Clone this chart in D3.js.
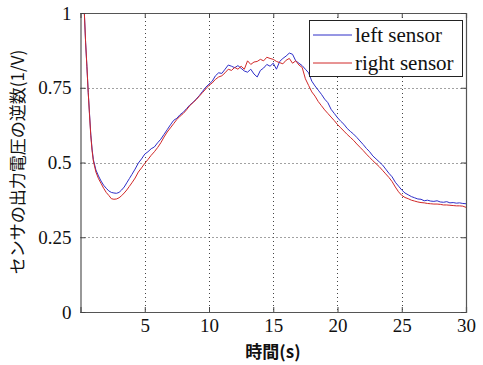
<!DOCTYPE html>
<html><head><meta charset="utf-8">
<script src="https://cdn.jsdelivr.net/npm/d3@7"></script>
<style>body{margin:0;background:#fff}svg{display:block}</style>
</head><body>
<svg id="c" width="483" height="365"></svg>
<script>
const times = [0.3,0.4,0.5,0.6,0.7,0.8,0.9,1.0,1.2,1.4,1.6,1.8,2.0,2.2,2.4,2.6,2.8,3.0,3.2,3.4,3.6,3.8,
4.0,4.25,4.5,4.75,5.0,5.25,5.5,5.75,6.0,6.25,6.5,6.75,7.0,7.25,7.5,7.75,8.0,8.25,8.5,8.75,9.0,9.25,9.5,9.75,
10.0,10.25,10.5,10.75,11.0,11.25,11.5,11.75,12.0,12.25,12.5,12.75,13.0,13.25,13.5,13.75,14.0,14.25,14.5,14.75,
15.0,15.25,15.5,15.75,16.0,16.25,16.5,16.75,17.0,17.25,17.5,17.75,18.0,18.25,18.5,18.75,19.0,19.25,19.5,19.75,
20.0,20.25,20.5,20.75,21.0,21.25,21.5,21.75,22.0,22.25,22.5,22.75,23.0,23.25,23.5,23.75,24.0,24.25,24.5,24.75,
25.0,25.25,25.5,25.75,26.0,26.25,26.5,26.75,27.0,27.25,27.5,27.75,28.0,28.25,28.5,28.75,29.0,29.25,29.5,29.75,30.0];
const leftSensor = [1.0,0.90,0.82,0.735,0.665,0.595,0.545,0.51,0.475,0.455,0.438,0.424,0.414,0.405,0.400,0.398,0.397,0.400,0.408,0.418,0.432,0.446,
0.460,0.478,0.498,0.512,0.528,0.536,0.546,0.552,0.566,0.578,0.594,0.610,0.626,0.641,0.648,0.660,0.668,0.680,0.692,0.701,0.712,0.724,0.738,0.752,
0.762,0.772,0.790,0.800,0.798,0.812,0.826,0.822,0.817,0.824,0.815,0.806,0.802,0.812,0.796,0.786,0.808,0.816,0.828,0.822,
0.832,0.812,0.838,0.848,0.856,0.866,0.862,0.840,0.832,0.824,0.812,0.800,0.772,0.756,0.742,0.728,0.712,0.700,0.678,0.664,
0.650,0.638,0.628,0.614,0.604,0.595,0.584,0.572,0.560,0.547,0.536,0.522,0.512,0.502,0.492,0.478,0.464,0.452,0.434,0.421,
0.408,0.398,0.392,0.386,0.382,0.378,0.377,0.372,0.374,0.371,0.370,0.372,0.368,0.367,0.369,0.365,0.366,0.364,0.365,0.363,0.362];
const rightSensor = [1.0,0.90,0.82,0.735,0.66,0.59,0.54,0.505,0.468,0.446,0.43,0.414,0.40,0.39,0.379,0.377,0.378,0.382,0.389,0.398,0.408,0.42,
0.432,0.448,0.468,0.482,0.497,0.510,0.524,0.536,0.550,0.566,0.585,0.602,0.616,0.630,0.644,0.655,0.664,0.676,0.690,0.700,0.710,0.722,0.734,0.746,
0.758,0.766,0.778,0.786,0.790,0.800,0.812,0.808,0.818,0.812,0.822,0.812,0.840,0.828,0.836,0.838,0.845,0.840,0.852,0.848,
0.845,0.838,0.834,0.830,0.842,0.848,0.832,0.840,0.826,0.818,0.780,0.758,0.736,0.722,0.704,0.690,0.676,0.664,0.652,0.640,
0.627,0.616,0.605,0.594,0.584,0.574,0.562,0.551,0.540,0.528,0.517,0.506,0.496,0.486,0.474,0.462,0.450,0.436,0.418,0.402,
0.390,0.383,0.379,0.374,0.371,0.368,0.366,0.365,0.363,0.362,0.361,0.361,0.360,0.358,0.358,0.357,0.356,0.355,0.355,0.354,0.350];
const xTicks = [5,10,15,20,25,30];
const yTicks = [0,0.25,0.5,0.75,1];
const yTickLabels = ["0","0.25","0.5","0.75","1"];
const seriesNames = ["left sensor","right sensor"];
const seriesColors = ["#2e2ec8","#d02828"];
const xLabel = "時間(s)";
const yLabel = "センサの出力電圧の逆数(1/V)";

// pick an installed serif face if any
const cv = document.createElement("canvas").getContext("2d");
function w(f){ cv.font = "40px " + f; return cv.measureText("left sensor 0.75 Wig").width; }
const baseSans = w("sans-serif"), baseMono = w("monospace");
const candidates = ["Liberation Serif","DejaVu Serif","Tinos","Times New Roman","Times","Noto Serif","FreeSerif","Nimbus Roman","serif"];
let serif = "sans-serif";
for (const c of candidates) {
  const a = w(`"${c}", sans-serif`), b = w(`"${c}", monospace`);
  if (c==="serif") { if (Math.abs(w("serif")-baseSans)>0.5) { serif="serif"; break; } continue; }
  if (Math.abs(a-b) < 0.01 && Math.abs(a-baseSans) > 0.5) { serif = `"${c}"`; break; }
}

const svg = d3.select("#c");
const L=80.5, R=466, T=13, B=312;
const x = d3.scaleLinear().domain([0,30]).range([L,R]);
const y = d3.scaleLinear().domain([0,1]).range([B,T]);

// grid
const grid = svg.append("g").attr("stroke","#444").attr("stroke-width",1).attr("stroke-dasharray","1,3");
xTicks.filter(t=>t<30).forEach(t=>grid.append("line").attr("x1",Math.round(x(t))+0.5).attr("x2",Math.round(x(t))+0.5).attr("y1",T).attr("y2",B));
yTicks.filter(t=>t>0&&t<1).forEach(t=>grid.append("line").attr("y1",Math.round(y(t))+0.5).attr("y2",Math.round(y(t))+0.5).attr("x1",L).attr("x2",R));

// lines
svg.append("clipPath").attr("id","cp").append("rect").attr("x",L).attr("y",T).attr("width",R-L).attr("height",B-T);
const line = d3.line().x((d,i)=>x(times[i])).y(d=>y(d));
[leftSensor,rightSensor].forEach((s,k)=>{
  svg.append("path").datum(s).attr("d",line).attr("fill","none").attr("stroke",seriesColors[k]).attr("stroke-width",1).attr("clip-path","url(#cp)");
});

// axes
const tickLen = 5;
const xb = svg.append("g").attr("transform",`translate(0,${B})`).call(d3.axisBottom(x).tickValues(xTicks).tickSize(-tickLen).tickPadding(7).tickFormat(d3.format("d")));
const xt = svg.append("g").attr("transform",`translate(0,${T})`).call(d3.axisTop(x).tickValues(xTicks).tickSize(-tickLen).tickFormat(""));
const yl = svg.append("g").attr("transform",`translate(${L},0)`).call(d3.axisLeft(y).tickValues(yTicks).tickSize(-tickLen).tickPadding(9).tickFormat((d,i)=>yTickLabels[i]));
const yr = svg.append("g").attr("transform",`translate(${R},0)`).call(d3.axisRight(y).tickValues(yTicks).tickSize(-tickLen).tickFormat(""));
[xb,xt,yl,yr].forEach(g=>{
  g.attr("font-family",null).attr("font-size",null);
  g.select(".domain").attr("stroke","#555").attr("stroke-width",1.2);
  g.selectAll(".tick line").attr("stroke","#444");
  g.selectAll("text").style("font-family",serif).style("font-size","19px").attr("fill","#111");
});
xb.selectAll("text").attr("dy","0.71em");

// legend
const lg = svg.append("g");
lg.append("rect").attr("x",309.5).attr("y",20.5).attr("width",153).attr("height",56).attr("fill","#fff").attr("stroke","#222").attr("stroke-width",1);
seriesNames.forEach((n,i)=>{
  const yy = 35 + i*28;
  lg.append("line").attr("x1",313).attr("x2",352).attr("y1",yy).attr("y2",yy).attr("stroke",seriesColors[i]).attr("stroke-width",1);
  lg.append("text").attr("x",355).attr("y",yy+7).style("font-family",serif).style("font-size","21px").attr("fill","#111").text(n);
});

// labels
svg.append("text").attr("x",273).attr("y",358).attr("text-anchor","middle").style("font-family","'Noto Sans CJK JP',sans-serif").style("font-size","17px").attr("font-weight","bold").attr("fill","#111").text(xLabel);
svg.append("text").attr("transform","translate(24,162) rotate(-90)").attr("text-anchor","middle").style("font-family","'Noto Sans CJK JP',sans-serif").style("font-size","17px").attr("fill","#111").text(yLabel);
</script>
</body></html>
